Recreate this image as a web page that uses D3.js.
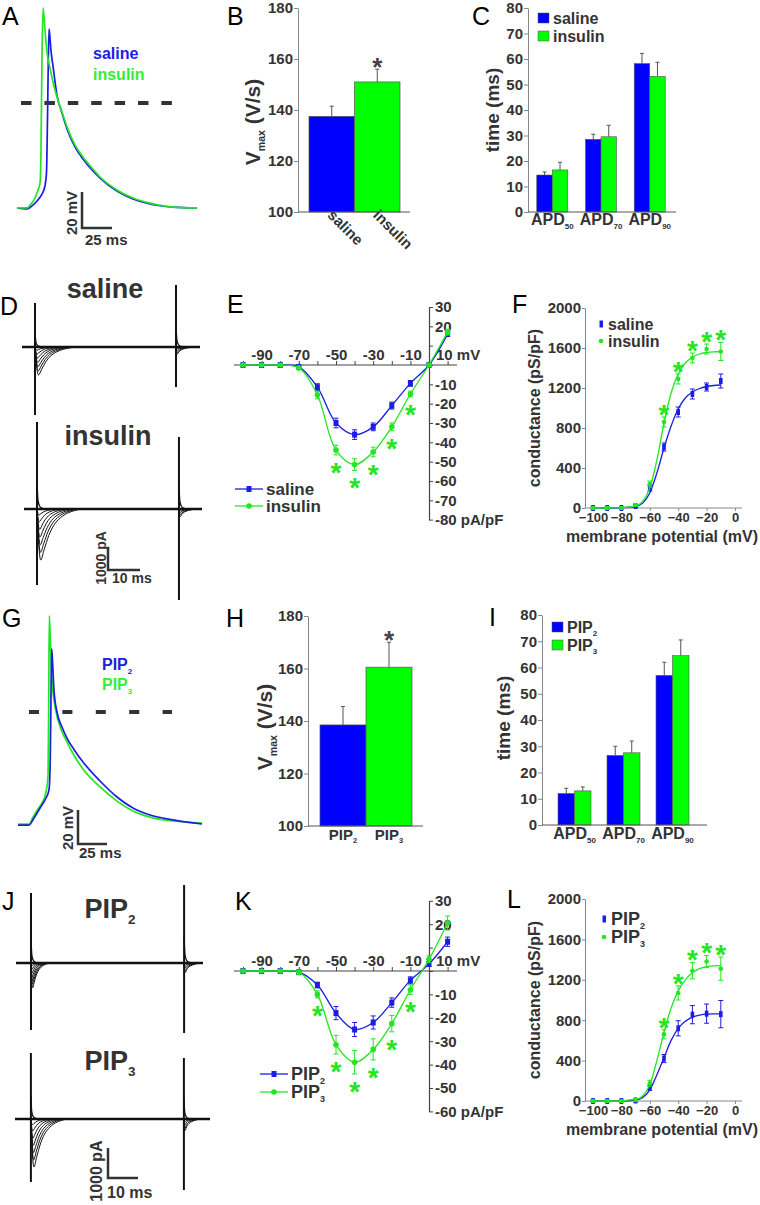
<!DOCTYPE html>
<html><head><meta charset="utf-8">
<script src="https://cdn.jsdelivr.net/npm/d3@7"></script>
<style>body{margin:0;background:#fff}</style>
</head><body>
<script>
// ================= DATA =================
// A / G : action potentials  [time ms, membrane potential mV]
const apSaline = [[0,-58.3],[8.3,-58.9],[12.5,-57.2],[16.7,-54.4],[20.8,-50.6],[23.3,-46.1],[24.6,-38.3],[25.4,-9.4],[26.1,23.9],[26.7,41.1],[27.5,36.1],[28.3,29.4],[30,20.6],[33.3,4.4],[37.5,-5.6],[41.7,-14.4],[48.3,-24.4],[55,-31.1],[62.5,-37.2],[69.2,-41.7],[83.3,-48.9],[96.7,-53.3],[110.8,-56.1],[130,-57.8],[150,-58.3]];
const apInsulin = [[0,-58.3],[8.3,-58.3],[11.7,-56.1],[15,-52.8],[17.5,-48.3],[19.2,-44.4],[20,-26],[20.8,24],[21.7,52.8],[23.3,40.6],[25,28.3],[27.5,19.4],[30,11.7],[33.3,3.3],[37.5,-5],[41.7,-13.3],[48.3,-23.3],[55,-30],[62.5,-36.1],[69.2,-41.1],[83.3,-48.3],[96.7,-52.8],[110.8,-55.6],[130,-57.8],[150,-58.3]];
const apPIP2 = [[0,-66.5],[9.5,-66.5],[13.8,-62.4],[19,-56.5],[24.1,-50.6],[26.7,-45.9],[27.8,-28.2],[28.4,7.1],[29,37.1],[29.7,30.6],[31,12.9],[33.6,0],[37.9,-8.8],[42.2,-15.3],[49.1,-22.9],[56,-29.4],[70.7,-40.6],[85.3,-50],[99.1,-56.5],[113.8,-60.6],[133.6,-63.5],[158.6,-65.9]];
const apPIP3 = [[0,-65.9],[9.5,-65.9],[12.9,-61.8],[17.2,-57.1],[20.7,-53.5],[24.1,-47.1],[25.9,-37.1],[26.5,7.1],[27,56.5],[28,39.4],[29.3,18.8],[31,7.1],[34.5,-4.7],[42.2,-17.6],[49.1,-26.5],[56,-33.5],[70.7,-44.1],[85.3,-52.4],[99.1,-58.2],[113.8,-61.8],[133.6,-64.1],[158.6,-65.3]];

// B / H : Vmax (V/s)
const vmaxCats1 = ["saline","insulin"];
const vmaxMean1 = [137.5, 151];
const vmaxErr1 = [4, 5];
const vmaxCats2 = ["PIP2","PIP3"];
const vmaxMean2 = [138.5, 160.5];
const vmaxErr2 = [7, 9.5];
const vmaxTicks = [100,120,140,160,180];

// C / I : APD (ms)
const apdCats = ["APD50","APD70","APD90"];
const apdSaline = [14.5, 28.5, 58.2];
const apdSalineErr = [1.2, 2, 4];
const apdInsulin = [16.5, 29.5, 53.2];
const apdInsulinErr = [3, 4.5, 5.5];
const apdPIP2 = [12, 26.5, 57];
const apdPIP2Err = [2, 3.5, 5];
const apdPIP3 = [13, 27.5, 64.5];
const apdPIP3Err = [1.5, 4.5, 6];
const timeTicks = [0,10,20,30,40,50,60,70,80];

// D / J : Na current families (pA)
const famProfile = [[0,0],[0.3,0.6],[0.8,1],[1.5,0.8],[2.5,0.52],[3.5,0.33],[5,0.17],[6.5,0.08],[8,0.03],[9.5,0]];
const famFractions = [0.12,0.25,0.4,0.55,0.7,0.85,1.0];
const famStretch = [0.6,0.7,0.8,0.9,1.0,1.08,1.15];
const tailProfile = [[0,0],[0.2,1],[1,0.55],[2,0.28],[3.5,0.1],[5,0]];
const tailFractions = [0.3,0.55,0.8,1.0];
const shoulderProfile = [[0,1],[0.3,0.3],[0.8,0.1],[1.5,0.03],[2.5,0]];
//            saline  insulin  PIP2   PIP3
const curEnd   = [55.6, 55.6, 62.3, 65];
const curStep1 = [4.06, 4.06, 5, 5.3];
const curStep2 = [48.1, 48.4, 56, 56.3];
const curUp1   = [1913, 3783, 2333, 2200];
const curDn1   = [2957, 3304, 2233, 2100];
const curFam   = [1217, 2217, 833, 1600];
const curDur   = [1.19, 1.28, 0.58, 1.1];
const curUp2   = [2696, 3130, 2600, 2033];
const curDn2   = [1739, 3957, 2333, 2367];
const curTail  = [320, 350, 330, 400];

// E / K : I-V (pA/pF)
const ivV = [-100,-90,-80,-70,-60,-50,-40,-30,-20,-10,0,10];
const ivSaline = [0,0,0,-1,-11.5,-30,-36,-32,-21,-9.5,0,16];
const ivSalineErr = [0.3,0.3,0.3,0.5,1.8,2.5,2.5,2,1.8,1.5,0.5,1];
const ivInsulin = [0,0,0,-1.5,-15.5,-44,-51.5,-45,-32,-15,0,17];
const ivInsulinErr = [0.3,0.3,0.3,0.5,2,2.5,3,2.5,2,1.5,0.5,1.5];
const ivInsulinStars = [-50,-40,-30,-20,-10];
const ivPIP2 = [0,0,0,-0.5,-6,-18,-25,-22,-13.5,-4,3,12.5];
const ivPIP2Err = [0.3,0.3,0.3,0.5,1.2,2.8,3,2.8,2,1.5,1,2];
const ivPIP3 = [0,0,0,-0.5,-10,-31.5,-39,-33.5,-22.5,-8,5,20.5];
const ivPIP3Err = [0.3,0.3,0.3,0.5,1.5,4,5,4.5,3.5,2,1.5,3];
const ivPIP3Stars = [-60,-50,-40,-30,-20,-10];
const ivXTicks = [-100,-90,-80,-70,-60,-50,-40,-30,-20,-10,0,10];
const ivXLabels = [-90,-70,-50,-30,-10];
const ivYTicksE = [-80,-70,-60,-50,-40,-30,-20,-10,0,10,20,30];
const ivYTicksK = [-60,-50,-40,-30,-20,-10,0,10,20,30];

// F / L : conductance (pS/pF)
const gV = [-100,-90,-80,-70,-60,-50,-40,-30,-20,-10];
const gSaline = [0,0,0,20,200,610,960,1140,1210,1270];
const gSalineErr = [10,10,10,15,30,40,50,50,40,70];
const gInsulin = [0,0,0,30,240,860,1290,1500,1590,1565];
const gInsulinErr = [10,10,10,15,30,50,50,50,50,90];
const gInsulinStars = [-50,-40,-30,-20,-10];
const gPIP2 = [0,0,0,5,130,420,720,855,865,860];
const gPIP2Err = [10,10,10,15,25,40,75,90,95,135];
const gPIP3 = [0,0,0,10,175,660,1070,1290,1380,1310];
const gPIP3Err = [10,10,10,15,30,45,70,80,60,115];
const gPIP3Stars = [-50,-40,-30,-20,-10];
const gFitV = [-100,-90,-80,-70,-65,-60,-55,-50,-45,-40,-35,-30,-25,-20,-15,-10];
const gFitSaline = [0,0,2,15,50,150,350,600,820,990,1100,1160,1195,1215,1225,1230];
const gFitInsulin = [0,0,3,20,65,200,480,850,1150,1340,1450,1510,1540,1555,1562,1565];
const gFitPIP2 = [0,0,1,10,35,110,260,430,600,720,790,830,850,860,862,862];
const gFitPIP3 = [0,0,2,15,50,160,400,680,920,1090,1200,1270,1310,1330,1338,1340];
const gXTicks = [-100,-80,-60,-40,-20,0];
const gYTicks = [0,400,800,1200,1600,2000];

// ================= STYLE =================
const FONT = "'Liberation Sans', Arial, Helvetica, sans-serif";
const DARK = "#333";
const BAR_BLUE = "#0000ff", BAR_GREEN = "#00ff00";
const L_BLUE = "#1c1ce6", L_GREEN = "#22e622";
const T_BLUE = "#2020e0", T_GREEN = "#33ee33";

const svg = d3.select("body").append("svg").attr("width",760).attr("height",1205).attr("font-family",FONT);
svg.append("rect").attr("width",760).attr("height",1205).attr("fill","#fff");

function rich(t, parts, size){
  let shifted = 0;
  (Array.isArray(parts)?parts:[parts]).forEach(p=>{
    const sp = t.append("tspan");
    if (typeof p === "string"){ sp.text(p); if (shifted){ sp.attr("dy",-shifted); shifted=0; } }
    else { const d = size*0.22; sp.attr("font-size",size*0.5).attr("dy",d).text(p.sub); shifted=d; }
  });
}
function txt(x,y,parts,o={}){
  const size = o.size||15;
  const t = svg.append("text").attr("x",x).attr("y",y).attr("font-size",size)
    .attr("font-weight",o.weight||"bold").attr("fill",o.color||DARK)
    .attr("text-anchor",o.anchor||"start");
  if (o.rotate!=null) t.attr("transform",`rotate(${o.rotate},${x},${y})`);
  rich(t, parts, size);
  return t;
}
function letter(x,y,s){ txt(x,y,s,{size:25,weight:"normal",color:"#000"}); }
function styleAxis(g, stroke, fs){
  g.attr("font-family",FONT).attr("font-size",fs||15);
  g.selectAll("path.domain").attr("stroke",stroke);
  g.selectAll(".tick line").attr("stroke",stroke);
  g.selectAll(".tick text").attr("fill",DARK).attr("font-weight","bold");
}
function star(x,cy,color,size){
  svg.append("text").attr("x",x).attr("y",cy+size*0.6).attr("text-anchor","middle")
    .attr("font-size",size).attr("font-weight","bold").attr("fill",color).text("*");
}
function hline(x1,x2,y,stroke,w){ return svg.append("line").attr("x1",x1).attr("x2",x2).attr("y1",y).attr("y2",y).attr("stroke",stroke).attr("stroke-width",w||1); }
function vline(x,y1,y2,stroke,w){ return svg.append("line").attr("x1",x).attr("x2",x).attr("y1",y1).attr("y2",y2).attr("stroke",stroke).attr("stroke-width",w||1); }
function errBar(x,y1,y2,color,cap,w){ vline(x,y1,y2,color,w||1); hline(x-cap/2,x+cap/2,y2,color,w||1); }

// ================= AP panels (A, G) =================
function apPanel(o){
  const x = d3.scaleLinear().domain(o.xDom).range(o.xRange);
  const y = d3.scaleLinear().domain([0,-60]).range([o.yZero, o.yZero+60*o.pxmv]);
  const line = d3.line().x(d=>x(d[0])).y(d=>y(d[1])).curve(d3.curveMonotoneX);
  hline(o.dash[0],o.dash[1],y(0),"#333",4).attr("stroke-dasharray",o.dashArr);
  o.series.forEach(s=>{
    svg.append("path").attr("d",line(s.data)).attr("fill","none").attr("stroke",s.color).attr("stroke-width",1.7).attr("stroke-linejoin","round");
  });
  const cx = o.bar[0], cy = o.bar[1];
  const w = x(25)-x(0), h = y(-20)-y(0);
  svg.append("path").attr("d",`M${cx},${cy-h}V${cy}H${cx+w}`).attr("fill","none").attr("stroke","#333").attr("stroke-width",2.5);
  txt(o.vLab[0],o.vLab[1],"20 mV",{size:15,anchor:"middle",rotate:-90});
  txt(o.hLab[0],o.hLab[1],"25 ms",{size:15});
}
apPanel({xDom:[0,150], xRange:[17,197], yZero:103, pxmv:1.8, dash:[21,173], dashArr:"10.5,12.9",
  series:[{data:apSaline,color:L_BLUE},{data:apInsulin,color:L_GREEN}],
  bar:[82,228], vLab:[77,213], hLab:[85,245]});
txt(93,59,"saline",{size:16,color:T_BLUE});
txt(93,80,"insulin",{size:16,color:T_GREEN});
letter(2,25,"A");

apPanel({xDom:[0,158.6], xRange:[18,202], yZero:712, pxmv:1.7, dash:[29,172], dashArr:"10,23.4",
  series:[{data:apPIP3,color:L_GREEN},{data:apPIP2,color:L_BLUE}],
  bar:[78,844], vLab:[73,828], hLab:[79,858]});
txt(102,670,["PIP",{sub:"2"}],{size:16,color:T_BLUE});
txt(102,690,["PIP",{sub:"3"}],{size:16,color:T_GREEN});
letter(2,627,"G");

// ================= Vmax panels (B, H) =================
function vmaxPanel(o){
  const y = d3.scaleLinear().domain([100,180]).range([o.yB,o.yT]);
  const x = d3.scaleBand().domain(o.cats).range(o.barRange);
  const g = svg.append("g").attr("transform",`translate(${o.axisX},0)`)
    .call(d3.axisLeft(y).tickValues(vmaxTicks).tickSize(4).tickSizeOuter(0).tickPadding(1));
  styleAxis(g,"#888",15);
  o.cats.forEach((c,i)=>{
    svg.append("rect").attr("x",x(c)).attr("y",y(o.mean[i])).attr("width",x.bandwidth()).attr("height",y(100)-y(o.mean[i]))
      .attr("fill",o.colors[i]).attr("stroke","#555").attr("stroke-width",0.7);
    errBar(x(c)+x.bandwidth()/2, y(o.mean[i]), y(o.mean[i]+o.err[i]), "#555", 4, 1);
  });
  hline(o.axisX, o.axisEnd, o.yB, "#555", 1.2);
  const last = o.cats.length-1;
  star(x(o.cats[last])+x.bandwidth()/2, y(o.mean[last]+o.err[last])-9, "#444", 26);
  txt(o.yLab[0],o.yLab[1],["V",{sub:"max"}," (V/s)"],{size:21,anchor:"middle",rotate:-90});
  return x;
}
const xB = vmaxPanel({cats:vmaxCats1, mean:vmaxMean1, err:vmaxErr1, colors:[BAR_BLUE,BAR_GREEN],
  yB:212, yT:8, barRange:[309,400], axisX:298, axisEnd:410, yLab:[260,122]});
vmaxCats1.forEach(c=>{ txt(xB(c)+xB.bandwidth()/2-5, 216, c, {size:15, rotate:45}); });
letter(227,25,"B");

const xH = vmaxPanel({cats:vmaxCats2, mean:vmaxMean2, err:vmaxErr2, colors:[BAR_BLUE,BAR_GREEN],
  yB:826, yT:616, barRange:[320,412], axisX:308, axisEnd:423, yLab:[272,727]});
vmaxCats2.forEach(c=>{ txt(xH(c)+xH.bandwidth()/2, 840, ["PIP",{sub:c.slice(3)}], {size:15, anchor:"middle"}); });
letter(226,627,"H");

// ================= APD panels (C, I) =================
function apdPanel(o){
  const y = d3.scaleLinear().domain([0,80]).range([o.yB,o.yT]);
  const x0 = d3.scaleBand().domain(apdCats).range([o.axisX,o.axisEnd]).paddingInner(o.pi).paddingOuter(o.po);
  const x1 = d3.scaleBand().domain([0,1]).range([0,x0.bandwidth()]);
  const g = svg.append("g").attr("transform",`translate(${o.axisX},0)`)
    .call(d3.axisLeft(y).tickValues(timeTicks).tickSize(4).tickSizeOuter(0).tickPadding(1));
  styleAxis(g,"#888",15);
  apdCats.forEach((c,i)=>{
    o.series.forEach((s,j)=>{
      const bx = x0(c)+x1(j);
      svg.append("rect").attr("x",bx).attr("y",y(s.vals[i])).attr("width",x1.bandwidth()).attr("height",y(0)-y(s.vals[i]))
        .attr("fill",s.color).attr("stroke","#555").attr("stroke-width",0.6);
      errBar(bx+x1.bandwidth()/2, y(s.vals[i]), y(s.vals[i]+s.errs[i]), "#555", 4, 1);
    });
    txt(x0(c)+x0.bandwidth()/2, o.labY, ["APD",{sub:c.slice(3)}], {size:16, anchor:"middle"});
  });
  hline(o.axisX, o.axisEnd+2, o.yB, "#555", 1.2);
  txt(o.yLab[0],o.yLab[1],"time (ms)",{size:19,anchor:"middle",rotate:-90});
  o.series.forEach((s,j)=>{
    svg.append("rect").attr("x",o.leg[0]).attr("y",o.leg[1]+j*18-5).attr("width",11).attr("height",10).attr("fill",s.color).attr("stroke","#555").attr("stroke-width",0.5);
    txt(o.leg[0]+15,o.leg[1]+j*18+5.5,s.name,{size:16});
  });
}
apdPanel({yB:212, yT:8, axisX:528, axisEnd:674, pi:0.364, po:0.18, labY:225, yLab:[499,110], leg:[538,18],
  series:[{vals:apdSaline,errs:apdSalineErr,color:BAR_BLUE,name:"saline"},{vals:apdInsulin,errs:apdInsulinErr,color:BAR_GREEN,name:"insulin"}]});
letter(472,25,"C");
apdPanel({yB:825, yT:615, axisX:542, axisEnd:705, pi:0.327, po:0.327, labY:839, yLab:[510,718], leg:[552,627],
  series:[{vals:apdPIP2,errs:apdPIP2Err,color:BAR_BLUE,name:["PIP",{sub:"2"}]},{vals:apdPIP3,errs:apdPIP3Err,color:BAR_GREEN,name:["PIP",{sub:"3"}]}]});
letter(489,626,"I");

// ================= current families (D, J) =================
function currentTrace(k, xRange, base, pxPerPA){
  const x = d3.scaleLinear().domain([0,curEnd[k]]).range(xRange);
  const y = d3.scaleLinear().domain([0,1000]).range([base, base-1000*pxPerPA]);
  const line = d3.line().x(d=>x(d[0])).y(d=>y(d[1])).curve(d3.curveMonotoneX);
  const ink = "#111";
  svg.append("path").attr("d",line([[0,0],[curEnd[k],0]])).attr("stroke",ink).attr("stroke-width",2.6).attr("fill","none");
  famFractions.forEach((f,i)=>{
    const pts = famProfile.map(p=>[curStep1[k]+p[0]*famStretch[i]*curDur[k], -f*curFam[k]*p[1]]);
    svg.append("path").attr("d",line(pts)).attr("stroke",ink).attr("stroke-width",1).attr("fill","none");
  });
  tailFractions.forEach(f=>{
    const pts = tailProfile.map(p=>[curStep2[k]+p[0]*(0.5+0.6*f), -f*curTail[k]*p[1]]);
    svg.append("path").attr("d",line(pts)).attr("stroke",ink).attr("stroke-width",1).attr("fill","none");
  });
  [[curStep1[k],curUp1[k],curDn1[k]],[curStep2[k],curUp2[k],curDn2[k]]].forEach(([t,u,dn])=>{
    vline(x(t), y(u), y(-dn), ink, 2);
    const sh = shoulderProfile.map(p=>[t+p[0], u*p[1]*0.35]);
    svg.append("path").attr("d",line(sh)).attr("stroke",ink).attr("stroke-width",1.3).attr("fill","none");
  });
  return {x,y};
}
function pAbar(cx,cy,sc,pxPerPA,fs,vx,vy,hx,hy){
  const w = sc.x(10)-sc.x(0), h = 1000*pxPerPA;
  svg.append("path").attr("d",`M${cx},${cy-h}V${cy}H${cx+w}`).attr("fill","none").attr("stroke","#333").attr("stroke-width",2.5);
  txt(vx,vy,"1000 pA",{size:fs,anchor:"middle",rotate:-90});
  txt(hx,hy,"10 ms",{size:fs});
}
txt(105,298,"saline",{size:27,anchor:"middle"});
const sD = currentTrace(0,[22,200],347,0.023);
txt(108,445,"insulin",{size:27,anchor:"middle"});
currentTrace(1,[24,202],509,0.023);
pAbar(108,570,sD,0.023,14,106,558,112,583);
letter(0,315,"D");

txt(110,918,["PIP",{sub:"2"}],{size:27,anchor:"middle"});
const sJ = currentTrace(2,[16,203],963,0.03);
txt(110,1070,["PIP",{sub:"3"}],{size:27,anchor:"middle"});
currentTrace(3,[15,210],1119,0.03);
pAbar(108,1178,sJ,0.03,16,102,1171,107,1198);
letter(2,910,"J");

// ================= I-V panels (E, K) =================
function ivPanel(o){
  const x = d3.scaleLinear().domain([-100,0]).range([243,429]);
  const y = d3.scaleLinear().domain([o.yMin,30]).range([o.y0-o.yMin/10*o.pp10, o.y0-3*o.pp10]);
  hline(234,457,o.y0,"#444",1.2);
  const gx = svg.append("g").attr("transform",`translate(0,${o.y0})`)
    .call(d3.axisTop(x).tickValues(ivXTicks).tickSize(4).tickSizeOuter(0).tickPadding(1)
      .tickFormat(d=>ivXLabels.includes(d)?String(d):""));
  gx.select(".domain").remove();
  styleAxis(gx,"#444",15);
  const gy = svg.append("g").attr("transform",`translate(429,0)`)
    .call(d3.axisRight(y).tickValues(o.yTicks).tickSize(4).tickSizeOuter(0).tickPadding(2)
      .tickFormat(d=> (d===0||d===10)?"": (d===o.yMin? d+" pA/pF" : String(d))));
  styleAxis(gy,"#444",15);
  gy.select(".domain").attr("stroke-width",1.2);
  txt(436,o.y0-5,"10 mV",{size:15});
  const line = d3.line().x((d,i)=>x(ivV[i])).y(d=>y(d)).curve(d3.curveCatmullRom);
  o.series.forEach(s=>{
    svg.append("path").attr("d",line(s.vals)).attr("fill","none").attr("stroke",s.color).attr("stroke-width",1.3);
    s.vals.forEach((v,i)=>{
      const px = x(ivV[i]);
      vline(px, y(v-s.errs[i]), y(v+s.errs[i]), s.color, 1);
      hline(px-2.5,px+2.5,y(v-s.errs[i]),s.color,1); hline(px-2.5,px+2.5,y(v+s.errs[i]),s.color,1);
      if (s.shape==="sq") svg.append("rect").attr("x",px-2.5).attr("y",y(v)-3).attr("width",5).attr("height",6).attr("fill",s.color);
      else svg.append("circle").attr("cx",px).attr("cy",y(v)).attr("r",2.8).attr("fill",s.color);
    });
  });
  const st = o.series[1];
  o.stars.forEach(v=>{ const i = ivV.indexOf(v); star(x(v), y(st.vals[i]-st.errs[i])+10, L_GREEN, 28); });
  o.series.forEach((s,j)=>{
    const ly = o.leg[1]+j*o.legGap;
    hline(o.leg[0],o.leg[0]+28,ly,s.color,1.3);
    if (s.shape==="sq") svg.append("rect").attr("x",o.leg[0]+11.5).attr("y",ly-3).attr("width",5).attr("height",6).attr("fill",s.color);
    else svg.append("circle").attr("cx",o.leg[0]+14).attr("cy",ly).attr("r",2.8).attr("fill",s.color);
    txt(o.leg[0]+31, ly+6, s.name, {size:o.legFs});
  });
}
ivPanel({y0:365, pp10:19.33, yMin:-80, yTicks:ivYTicksE, stars:ivInsulinStars, leg:[235,489], legFs:17, legGap:17,
  series:[{vals:ivSaline,errs:ivSalineErr,color:L_BLUE,shape:"sq",name:"saline"},{vals:ivInsulin,errs:ivInsulinErr,color:L_GREEN,shape:"ci",name:"insulin"}]});
letter(227,313,"E");
ivPanel({y0:971, pp10:23.4, yMin:-60, yTicks:ivYTicksK, stars:ivPIP3Stars, leg:[260,1074], legFs:18, legGap:18,
  series:[{vals:ivPIP2,errs:ivPIP2Err,color:L_BLUE,shape:"sq",name:["PIP",{sub:"2"}]},{vals:ivPIP3,errs:ivPIP3Err,color:L_GREEN,shape:"ci",name:["PIP",{sub:"3"}]}]});
letter(235,910,"K");

// ================= conductance panels (F, L) =================
function gPanel(o){
  const x = d3.scaleLinear().domain([-100,0]).range([593,735]);
  const y = d3.scaleLinear().domain([0,2000]).range([o.y0,o.yT]);
  const gy = svg.append("g").attr("transform",`translate(585,0)`)
    .call(d3.axisLeft(y).tickValues(gYTicks).tickSize(3).tickSizeOuter(0).tickPadding(1).tickFormat(d3.format("d")));
  styleAxis(gy,"#888",15);
  const gx = svg.append("g").attr("transform",`translate(0,${o.y0})`)
    .call(d3.axisBottom(x).tickValues(gXTicks).tickSize(3).tickSizeOuter(0).tickPadding(2).tickFormat(d3.format("d")));
  gx.select(".domain").remove();
  styleAxis(gx,"#888",13);
  hline(585,742,o.y0,"#888",1);
  txt(662,o.y0+34,"membrane potential (mV)",{size:16,anchor:"middle"});
  txt(540,(o.y0+o.yT)/2,"conductance (pS/pF)",{size:16,anchor:"middle",rotate:-90});
  const fitLine = d3.line().x((d,i)=>x(gFitV[i])).y(d=>y(d)).curve(d3.curveMonotoneX);
  o.series.forEach(s=>{
    svg.append("path").attr("d",fitLine(s.fit)).attr("fill","none").attr("stroke",s.color).attr("stroke-width",1.3);
    s.vals.forEach((v,i)=>{
      const px = x(gV[i]);
      vline(px,y(v-s.errs[i]),y(v+s.errs[i]),s.color,1);
      hline(px-2.5,px+2.5,y(v-s.errs[i]),s.color,1); hline(px-2.5,px+2.5,y(v+s.errs[i]),s.color,1);
      if (s.shape==="sq") svg.append("rect").attr("x",px-1.8).attr("y",y(v)-3).attr("width",3.6).attr("height",6).attr("fill",s.color);
      else svg.append("circle").attr("cx",px).attr("cy",y(v)).attr("r",2.3).attr("fill",s.color);
    });
  });
  const st = o.series[1];
  o.stars.forEach(v=>{ const i = gV.indexOf(v); star(x(v), y(st.vals[i]+st.errs[i])-10, L_GREEN, 28); });
  o.series.forEach((s,j)=>{
    const ly = o.leg[1]+j*o.legGap;
    if (s.shape==="sq") svg.append("rect").attr("x",o.leg[0]-1.5).attr("y",ly-3.5).attr("width",3.5).attr("height",7).attr("fill",s.color);
    else svg.append("circle").attr("cx",o.leg[0]).attr("cy",ly).attr("r",2.3).attr("fill",s.color);
    txt(o.leg[0]+7, ly+6, s.name, {size:o.legFs});
  });
}
gPanel({y0:508, yT:308, stars:gInsulinStars, leg:[601,324], legFs:16, legGap:17,
  series:[{vals:gSaline,errs:gSalineErr,fit:gFitSaline,color:L_BLUE,shape:"sq",name:"saline"},{vals:gInsulin,errs:gInsulinErr,fit:gFitInsulin,color:L_GREEN,shape:"ci",name:"insulin"}]});
letter(512,313,"F");
gPanel({y0:1101, yT:899, stars:gPIP3Stars, leg:[604,919], legFs:18, legGap:18,
  series:[{vals:gPIP2,errs:gPIP2Err,fit:gFitPIP2,color:L_BLUE,shape:"sq",name:["PIP",{sub:"2"}]},{vals:gPIP3,errs:gPIP3Err,fit:gFitPIP3,color:L_GREEN,shape:"ci",name:["PIP",{sub:"3"}]}]});
letter(507,908,"L");
</script>
</body></html>
